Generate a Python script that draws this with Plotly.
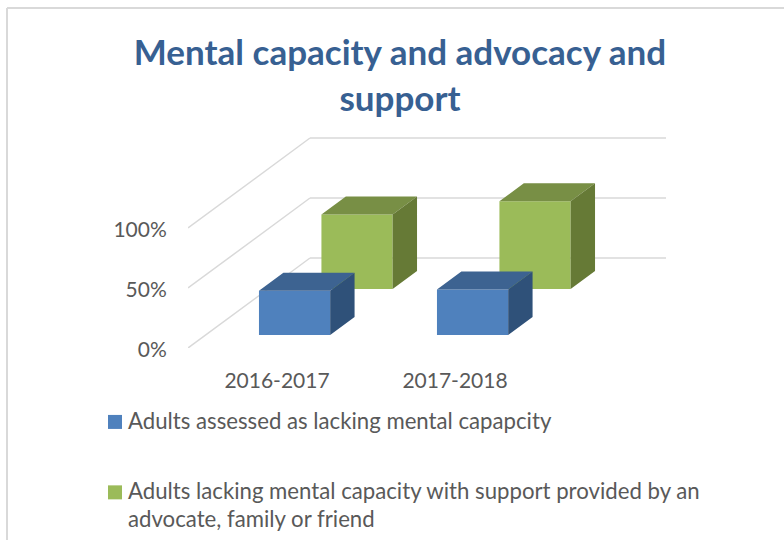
import plotly.graph_objects as go

# Data
categories = ["2016-2017", "2017-2018"]
series_names = [
    "Adults assessed as lacking mental capapcity",
    "Adults lacking mental capacity with support provided by an<br>advocate, family or friend",
]
lacking_capacity = [37, 38]
with_support = [62, 73]
y_ticks = [0, 50, 100]
y_tick_labels = ["0%", "50%", "100%"]
title_text = "Mental capacity and advocacy and<br>support"

# Oblique projection of the 3D chart into the x / y axes
DX = 122 / 178      # x-axis units per full chart depth
DY = 75.0           # y-axis units per full chart depth
BAR_W = 0.4
BAR_D = 0.2
FONT = "Lato, Carlito, Calibri, sans-serif"
GREY = "#595959"
PW, PH = 784, 580   # taller than the window: the chart frame runs off the bottom edge


def project(x, y, d):
    return x + DX * d, y + DY * d


def faces(vals, d0):
    top_x, top_y, side_x, side_y = [], [], [], []
    for i, v in enumerate(vals):
        c = i + 0.5
        l, r = c - BAR_W / 2, c + BAR_W / 2
        d1 = d0 + BAR_D
        for px, py in [project(l, v, d0), project(r, v, d0), project(r, v, d1), project(l, v, d1), project(l, v, d0)]:
            top_x.append(px); top_y.append(py)
        top_x.append(None); top_y.append(None)
        for px, py in [project(r, 0, d0), project(r, v, d0), project(r, v, d1), project(r, 0, d1), project(r, 0, d0)]:
            side_x.append(px); side_y.append(py)
        side_x.append(None); side_y.append(None)
    return top_x, top_y, side_x, side_y


fig = go.Figure()
# (values, front depth, front, top, side, name, legend)
series = [
    (with_support, 0.656, "#9BBB59", "#788F45", "#667A36", series_names[1], "legend2"),
    (lacking_capacity, 0.144, "#4F81BD", "#3D6391", "#2F5179", series_names[0], "legend"),
]
for vals, d0, front, top, side, name, leg in series:
    xs = [project(i + 0.5, 0, d0)[0] for i in range(len(vals))]
    base = [project(0, 0, d0)[1]] * len(vals)
    fig.add_bar(x=xs, y=vals, base=base, width=BAR_W, marker=dict(color=front, line=dict(width=0)),
                showlegend=False, hoverinfo="skip", name=name)
for vals, d0, front, top, side, name, leg in series:
    tx, ty, sx, sy = faces(vals, d0)
    for fx, fy, col in [(tx, ty, top), (sx, sy, side)]:
        fig.add_scatter(x=fx, y=fy, mode="lines", fill="toself", fillcolor=col, line=dict(width=0, color=col),
                        showlegend=False, hoverinfo="skip")
for vals, d0, front, top, side, name, leg in reversed(series):
    fig.add_scatter(x=[None], y=[None], mode="markers", name=name, legend=leg,
                    marker=dict(symbol="square", size=14, color=front))

# Gridlines: left wall diagonals + back wall lines, behind the bars
shapes = []
for t in y_ticks:
    x0, y0 = project(0, t, 0)
    x1, y1 = project(0, t, 1)
    x2, y2 = project(len(categories), t, 1)
    line = dict(color="#D9D9D9", width=1.5)
    shapes.append(dict(type="line", xref="x", yref="y", x0=x0, y0=y0, x1=x1, y1=y1, line=line, layer="below"))
    shapes.append(dict(type="line", xref="x", yref="y", x0=x1, y0=y1, x1=x2, y1=y2, line=line, layer="below"))

# Plot rectangle, as fractions of the page
L, T, W, H = 188, 125, 512, 223
def pxx(p): return p / PW
def pxy(p): return 1 - p / PH
frame = dict(color="#D9D9D9", width=2)
shapes.append(dict(type="line", xref="paper", yref="paper", x0=pxx(7), x1=pxx(784), y0=pxy(8), y1=pxy(8), line=frame))
shapes.append(dict(type="line", xref="paper", yref="paper", x0=pxx(7), x1=pxx(7), y0=pxy(8), y1=0, line=frame))

leg_common = dict(font=dict(family=FONT, size=22.2, color=GREY), bgcolor="rgba(0,0,0,0)",
                  xanchor="left", yanchor="top", borderwidth=0)

fig.update_layout(
    width=PW, height=PH, autosize=False,
    margin=dict(l=0, r=0, t=0, b=0, autoexpand=False),
    paper_bgcolor="white", plot_bgcolor="white",
    barmode="overlay",
    title=dict(text=title_text, x=400 / PW, xanchor="center", y=1 - 65 / PH, yanchor="top",
               font=dict(family=FONT, size=35, color="#376092", weight="bold")),
    xaxis=dict(domain=[pxx(L), pxx(L + W)], range=[0, W / 178],
               tickvals=[i + 0.5 for i in range(len(categories))], ticktext=categories,
               showgrid=False, zeroline=False, showline=False, ticks="outside", ticklen=14,
               tickcolor="rgba(0,0,0,0)", tickfont=dict(family=FONT, size=21, color=GREY), fixedrange=True),
    yaxis=dict(domain=[pxy(T + H), pxy(T)], range=[0, H / 1.2], tickvals=y_ticks, ticktext=y_tick_labels,
               showgrid=False, zeroline=False, showline=False, ticks="outside", ticklen=16, ticklabelshift=2,
               tickcolor="rgba(0,0,0,0)", tickfont=dict(family=FONT, size=21, color=GREY), fixedrange=True),
    legend=dict(x=pxx(88), y=pxy(399), **leg_common),
    legend2=dict(x=pxx(88), y=pxy(469), **leg_common),
    shapes=shapes,
)
nudge = """
document.body.style.margin='0';document.body.style.overflow='hidden';
document.documentElement.style.overflow='hidden';
(function(){
  var done=false;
  function run(){
    if(done) return;
    var els=document.querySelectorAll('.legendsymbols');
    if(els.length<2){setTimeout(run,30);return;}
    done=true;
    els.forEach(function(el){
      var two=el.closest('.traces').textContent.length>60;
      el.setAttribute('transform','translate(7,'+(two?-12:2)+') '+(el.getAttribute('transform')||''));
    });
  }
  run();
})();
"""
fig.write_html("out.html", config={"displayModeBar": False}, post_script=nudge)
